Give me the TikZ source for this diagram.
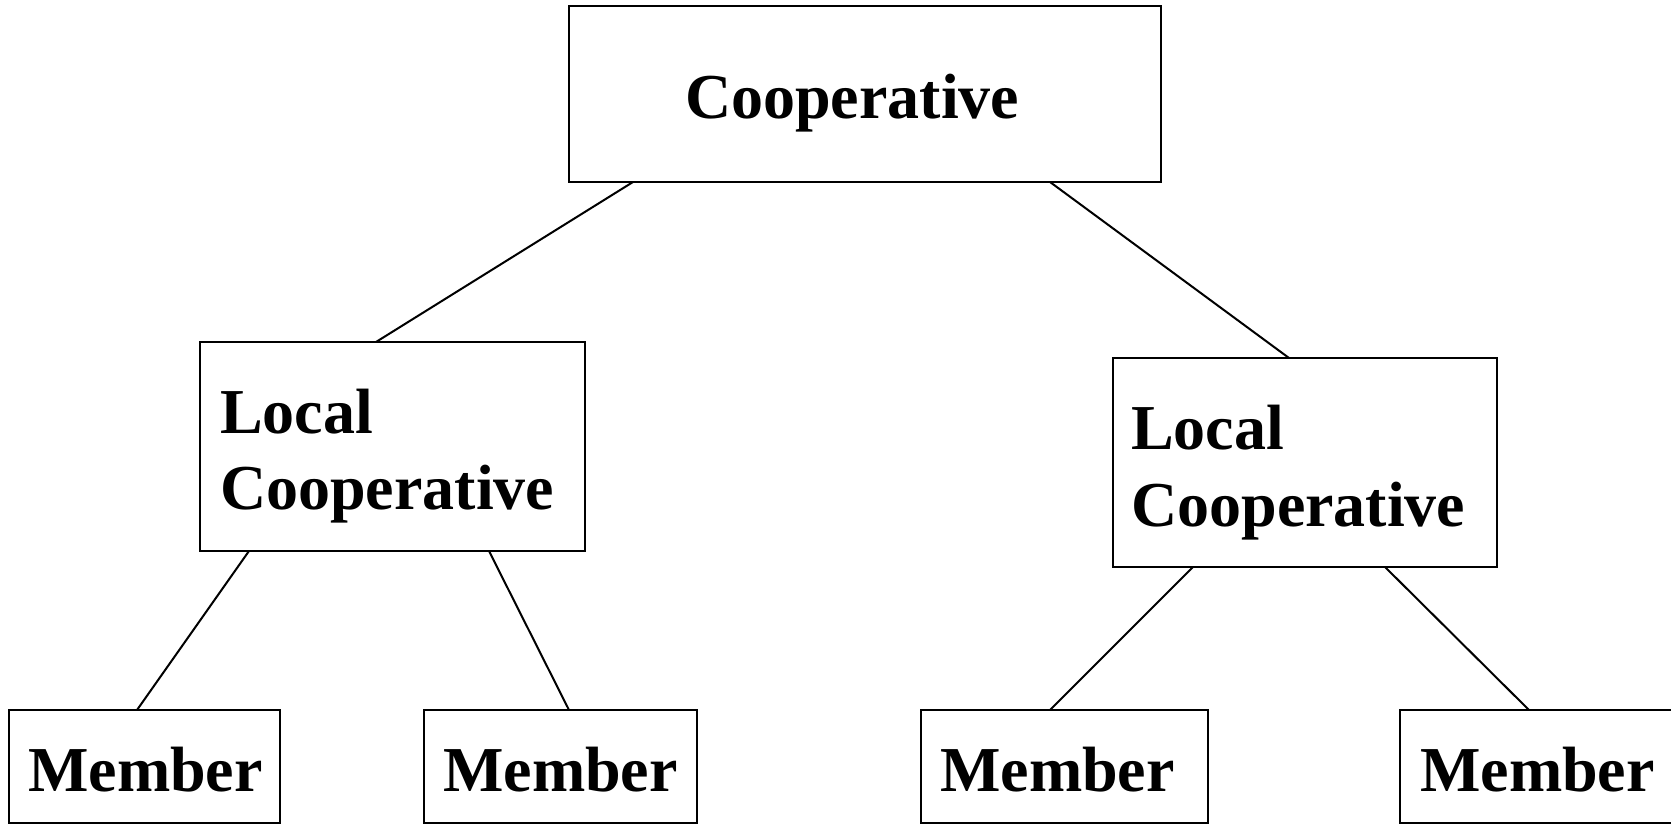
\documentclass[tikz,border=0pt]{standalone}
\usepackage{fontspec}
\setmainfont{Liberation Serif}
\usetikzlibrary{calc}
\begin{document}
\begin{tikzpicture}[x=1pt,y=1pt,
  box/.style={draw=black,line width=2pt,rectangle,anchor=north west,inner sep=0pt,outer sep=0pt},
  lbl/.style={anchor=base west,inner sep=0pt,font=\fontsize{64}{78}\selectfont\bfseries},
  conn/.style={draw=black,line width=2pt}]
\useasboundingbox (0,-824) rectangle (1671,0);
\fill[white] (0,-824) rectangle (1671,0);
% boxes
\node[box,minimum width=592pt,minimum height=176pt] (coop) at (569,-6) {};
\node[box,minimum width=385pt,minimum height=209pt] (locL) at (200,-342) {};
\node[box,minimum width=384pt,minimum height=209pt] (locR) at (1113,-358) {};
\node[box,minimum width=271pt,minimum height=113pt] (m1) at (9,-710) {};
\node[box,minimum width=273pt,minimum height=113pt] (m2) at (424,-710) {};
\node[box,minimum width=287pt,minimum height=113pt] (m3) at (921,-710) {};
\node[box,minimum width=290pt,minimum height=113pt] (m4) at (1400,-710) {};
% labels
\node[lbl] (coopt) at (685,-119) {Cooperative};
\node[lbl] (locLa) at (220,-433) {Local};
\node[lbl] (locLb) at (220,-509) {Cooperative};
\node[lbl] (locRa) at (1131,-449) {Local};
\node[lbl] (locRb) at (1131,-526) {Cooperative};
\node[lbl] (m1t) at (28,-791) {Member};
\node[lbl] (m2t) at (443,-791) {Member};
\node[lbl] (m3t) at (940,-791) {Member};
\node[lbl] (m4t) at (1420,-791) {Member};
% connectors
\draw[conn] ([xshift=64pt]coop.south west) -- ([xshift=176pt]locL.north west);
\draw[conn] ([xshift=481pt]coop.south west) -- ([xshift=176pt]locR.north west);
\draw[conn] ([xshift=49pt]locL.south west) -- ([xshift=128pt]m1.north west);
\draw[conn] ([xshift=289pt]locL.south west) -- ([xshift=145pt]m2.north west);
\draw[conn] ([xshift=80pt]locR.south west) -- ([xshift=129pt]m3.north west);
\draw[conn] ([xshift=272pt]locR.south west) -- ([xshift=129pt]m4.north west);
\end{tikzpicture}
\end{document}
